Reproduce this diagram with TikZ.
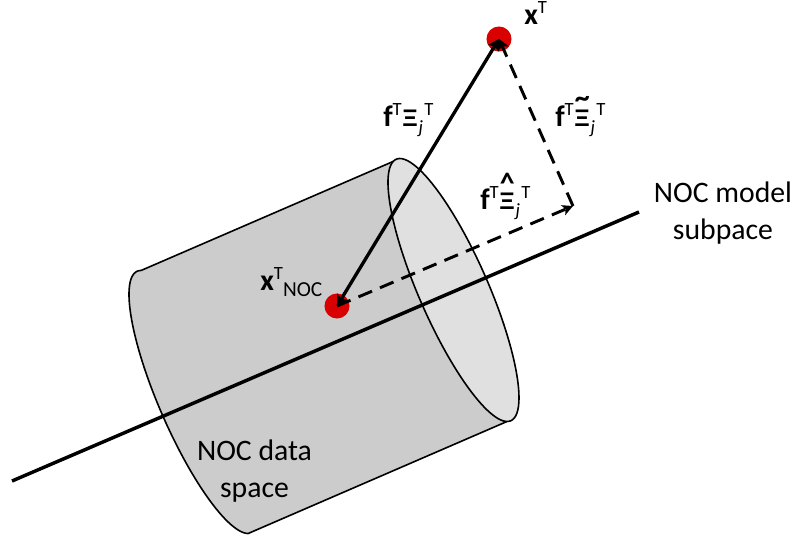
\documentclass[tikz,border=0pt]{standalone}
\usepackage{fontspec}
\setmainfont{Carlito}
\newfontfamily\xifont{Liberation Sans}
\usetikzlibrary{arrows.meta}
\definecolor{bodygray}{HTML}{CCCCCC}
\definecolor{capgray}{HTML}{E0E0E0}
\definecolor{dotred}{HTML}{D90000}
\newcommand{\supT}{\raisebox{.36em}{\fontsize{14}{16}\selectfont T}}
\newcommand{\subj}{\raisebox{-.24em}{\fontsize{14}{16}\selectfont\itshape j}}
\newcommand{\xiglyph}{{\xifont\bfseries\fontsize{18}{20}\selectfont Ξ}}
\newcommand{\xilabel}[1]{\textbf{f}\supT\kern.5pt #1\kern.5pt\subj\kern1pt\supT}
\newcommand{\accXi}[2]{\ooalign{\hfil\raisebox{#2}{\textbf{#1}}\hfil\cr\xiglyph\cr}}
\tikzset{
  x=.75pt,y=-.75pt,
  lbl/.style={font=\fontsize{22.3}{26}\selectfont,inner sep=0pt,align=center},
  big/.style={font=\fontsize{22.3}{27.5}\selectfont,inner sep=0pt,align=center},
  dot/.style={circle,fill=dotred,minimum size=18.8pt,inner sep=0pt},
  heavy/.style={line width=2.6pt},
  vec/.style={line width=2.5pt},
  dvec/.style={line width=2.2pt,dash pattern=on 11pt off 6.5pt}
}
\begin{document}
\begin{tikzpicture}
\useasboundingbox (0,0) rectangle (793,540);
% cylinder body
\fill[bodygray]
  plot[domain=145:-35,samples=60,smooth] ({453.5+65.5*cos(\x)},{290+131.5*cos(\x+35)})
  -- plot[domain=325:145,samples=60,smooth] ({194.5+65.5*cos(\x)},{402+131.5*cos(\x+35)}) -- cycle;
\draw[line width=1.2pt,line join=round]
  plot[domain=145:325,samples=60,smooth] ({194.5+65.5*cos(\x)},{402+131.5*cos(\x+35)})
  -- (507,421.5);
\draw[line width=1.2pt] (141,270.5) -- (400,158.5);
\filldraw[fill=capgray,line width=1.2pt]
  plot[domain=0:360,samples=100,smooth] ({453.5+65.5*cos(\x)},{290+131.5*cos(\x+35)}) -- cycle;
% subspace axis
\coordinate (axisA) at (12,481);
\coordinate (axisB) at (639,212);
\draw[heavy] (axisA) -- (axisB);
% points
\node[dot] (xt) at (499,39) {};
\node[dot] (xn) at (337,306) {};
\coordinate (corner) at (573,206);
% vectors
\draw[vec,{Stealth[length=8pt,width=9.5pt,inset=1.5pt]}-{Stealth[length=8pt,width=9.5pt,inset=1.5pt]}] (xn.center) -- (xt.center);
\draw[dvec,-{Stealth[length=8pt,width=8pt,inset=2pt]}] (xn.center) -- (corner);
\draw[dvec,-{Stealth[length=8pt,width=9pt,inset=2pt]}] (corner) -- (xt.center);
% labels
\node[lbl,anchor=base west] (l1) at (524,24) {\textbf{x}\supT};
\node[lbl,anchor=base west] (l2) at (383,126) {\xilabel{\xiglyph}};
\node[lbl,anchor=base west] (l3) at (555,126) {\xilabel{\accXi{\~{}}{.62em}}};
\node[lbl,anchor=base west] (l4) at (480,209) {\xilabel{\accXi{\^{}}{.52em}}};
\node[lbl,anchor=base west] (l5) at (260,290) {\textbf{x}\supT\raisebox{-.22em}{\fontsize{16}{18}\selectfont NOC}};
\node[big] (l6) at (723,213) {NOC model\\subpace};
\node[big] (l7) at (254.5,471) {NOC data\\space};
\end{tikzpicture}
\end{document}
